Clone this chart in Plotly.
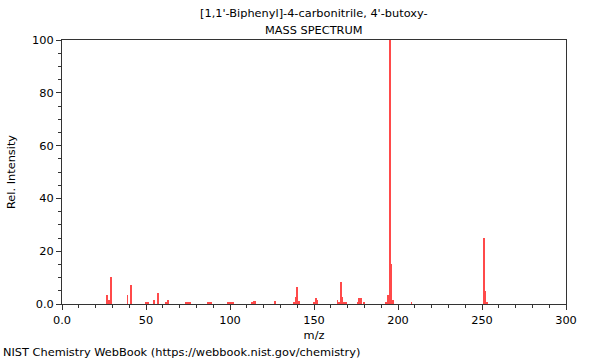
import plotly.graph_objects as go

mz = [27, 28, 29, 39, 41, 50, 51, 55, 57, 62, 63, 74, 75, 76, 87, 88, 89,
      99, 100, 101, 102, 113, 114, 115, 127, 138, 139, 140, 141, 150, 151, 152,
      164, 165, 166, 167, 168, 169, 176, 177, 178, 180, 193, 194, 195, 196, 197,
      208, 251, 252, 253]
intensity = [3.4, 1.5, 10.4, 3.4, 7.1, 0.6, 0.9, 1.6, 4.2, 0.8, 1.5, 0.7, 0.8, 0.7, 0.7, 0.8, 0.7,
             0.5, 0.5, 0.5, 0.4, 0.7, 1.0, 1.0, 1.1, 0.6, 2.8, 6.6, 1.3, 0.6, 2.4, 1.4,
             1.5, 0.6, 8.2, 2.8, 0.8, 0.7, 0.8, 2.4, 2.4, 0.7, 0.8, 3.4, 100, 15.2, 1.5,
             0.8, 24.9, 4.9, 0.8]

x_ticks = [0, 50, 100, 150, 200, 250, 300]
x_tick_labels = ["0.0", "50", "100", "150", "200", "250", "300"]
y_ticks = [0, 20, 40, 60, 80, 100]
y_tick_labels = ["0.0", "20", "40", "60", "80", "100"]

title_line1 = "[1,1'-Biphenyl]-4-carbonitrile, 4'-butoxy-"
title_line2 = "MASS SPECTRUM"
footer = "NIST Chemistry WebBook (https://webbook.nist.gov/chemistry)"

FONT = "DejaVu Sans"
FS = 11.35
AX = "#333333"

fig = go.Figure()
fig.add_trace(go.Bar(x=mz, y=intensity, width=0.5,
                     marker=dict(color="#ff4a4a", line=dict(width=0))))

fig.update_layout(
    width=600, height=360,
    margin=dict(l=62, r=34, t=40, b=56, autoexpand=False),
    paper_bgcolor="white", plot_bgcolor="white",
    showlegend=False, hovermode=False,
    font=dict(family=FONT, size=FS, color="black"),
    bargap=0,
)
fig.update_xaxes(
    range=[0, 300], tickvals=x_ticks, ticktext=x_tick_labels, automargin=False,
    showgrid=False, zeroline=False, showline=True, linecolor=AX, linewidth=1,
    mirror=True, ticks="outside", ticklen=5, tickcolor=AX, tickwidth=1,
    minor=dict(dtick=10, ticks="outside", ticklen=3, tickcolor=AX, showgrid=False),
    title=dict(text="m/z", standoff=5, font=dict(size=FS)),
    tickfont=dict(size=FS),
)
fig.update_yaxes(
    range=[0, 100], tickvals=y_ticks, ticktext=y_tick_labels, automargin=False,
    showgrid=False, zeroline=False, showline=True, linecolor=AX, linewidth=1,
    mirror=True, ticks="outside", ticklen=5, tickcolor=AX, tickwidth=1,
    minor=dict(dtick=5, ticks="outside", ticklen=3, tickcolor=AX, showgrid=False),
    title=dict(text="Rel. Intensity", standoff=14, font=dict(size=FS)),
    tickfont=dict(size=FS),
)

fig.add_annotation(text=title_line1, xref="paper", yref="paper", x=0.5, y=1,
                   yshift=27, showarrow=False, font=dict(size=FS),
                   xanchor="center", yanchor="middle")
fig.add_annotation(text=title_line2, xref="paper", yref="paper", x=0.5, y=1,
                   yshift=10, showarrow=False, font=dict(size=FS),
                   xanchor="center", yanchor="middle")
fig.add_annotation(text=footer, xref="paper", yref="paper", x=-62/504, y=-56/264,
                   xshift=1, yshift=8, showarrow=False, font=dict(size=FS),
                   xanchor="left", yanchor="middle")

fig.write_html("out.html", config={"displayModeBar": False},
               post_script="document.body.style.margin='0';document.body.style.overflow='hidden';")
